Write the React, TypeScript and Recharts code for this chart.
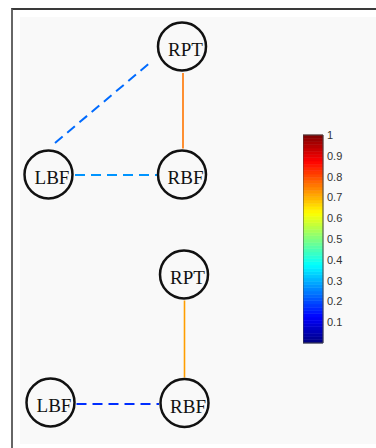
import {
  ComposedChart,
  Scatter,
  XAxis,
  YAxis,
  ReferenceArea,
} from "recharts";

// node layout (two graphs stacked: upper and lower)
const nodeNames = ["RPT", "LBF", "RBF", "RPT", "LBF", "RBF"];
const nodeX = [182, 48.5, 182, 184, 50.5, 184.5];
const nodeY = [46.5, 174.5, 174.5, 274.5, 402.5, 403];

// edges: endpoints, weight (0..1 on the colour scale), dashed or solid
const edgeX1 = [55, 75, 183, 184.5, 76.5];
const edgeY1 = [143, 175, 73, 300.5, 404];
const edgeX2 = [152, 157, 183, 184.5, 159];
const edgeY2 = [61, 175, 148.5, 377.5, 404];
const edgeWeight = [0.23, 0.27, 0.76, 0.72, 0.17];
const edgeDashed = [true, true, false, false, true];

const colorbarTicks = [0.1, 0.2, 0.3, 0.4, 0.5, 0.6, 0.7, 0.8, 0.9, 1];
const colorbarLevels = 64;

const clamp = (v: number) => Math.max(0, Math.min(1, v));

// MATLAB-style jet colormap
const jet = (v: number) => {
  const r = clamp(1.5 - Math.abs(4 * v - 3));
  const g = clamp(1.5 - Math.abs(4 * v - 2));
  const b = clamp(1.5 - Math.abs(4 * v - 1));
  return `rgb(${Math.round(r * 255)},${Math.round(g * 255)},${Math.round(b * 255)})`;
};

const nodes = nodeNames.map((name, i) => ({ name, x: nodeX[i], y: nodeY[i] }));

const edges = edgeWeight.map((w, i) => ({
  weight: w,
  dashed: edgeDashed[i],
  points: [
    { x: edgeX1[i], y: edgeY1[i] },
    { x: edgeX2[i], y: edgeY2[i] },
  ],
}));

const bands = Array.from({ length: colorbarLevels }, (_, i) => ({
  y1: i / colorbarLevels,
  y2: (i + 1) / colorbarLevels,
  color: jet((i + 0.5) / colorbarLevels),
}));

const NodeShape = (props: any) => {
  const { cx, cy, payload } = props;
  return (
    <g>
      <circle cx={cx} cy={cy} r={24} fill="none" stroke="#111" strokeWidth={2.5} />
      <text
        x={cx + 3.5}
        y={cy + 9.5}
        textAnchor="middle"
        fontFamily="Liberation Serif"
        fontSize={19}
        fill="#111"
      >
        {payload.name}
      </text>
    </g>
  );
};

const ColorbarTick = (props: any) => {
  const { x, y, payload } = props;
  return (
    <text
      x={x}
      y={y}
      dy={4}
      textAnchor="start"
      fontFamily="Liberation Sans"
      fontSize={11}
      fill="#333"
    >
      {String(payload.value)}
    </text>
  );
};

// a single point keeps the colorbar axes alive
const colorbarAnchor = [{ x: 0.5, y: 0.5 }];

const Colorbar = () => (
  <ComposedChart
    width={60}
    height={226}
    data={colorbarAnchor}
    margin={{ top: 11, right: 0, bottom: 7, left: 0 }}
  >
    <XAxis type="number" dataKey="x" domain={[0, 1]} allowDataOverflow hide />
    <YAxis
      yAxisId="cb"
      type="number"
      dataKey="y"
      orientation="right"
      domain={[0, 1]}
      allowDataOverflow
      ticks={colorbarTicks}
      interval={0}
      width={40}
      tickSize={2}
      tickMargin={2}
      tickLine={false}
      axisLine={false}
      tick={ColorbarTick}
    />
    <YAxis
      yAxisId="marks"
      type="number"
      orientation="left"
      mirror
      width={0}
      domain={[0, 1]}
      allowDataOverflow
      ticks={colorbarTicks}
      interval={0}
      tickSize={3}
      tick={false}
      axisLine={false}
      tickLine={{ stroke: "#333" }}
    />
    {bands.map((b, i) => (
      <ReferenceArea
        key={i}
        yAxisId="cb"
        x1={0}
        x2={1}
        y1={b.y1}
        y2={b.y2}
        fill={b.color}
        fillOpacity={1}
        stroke={b.color}
        strokeWidth={0.6}
      />
    ))}
    <ReferenceArea
      yAxisId="cb"
      x1={0}
      x2={1}
      y1={0}
      y2={1}
      fill="none"
      stroke="#444"
      strokeWidth={1}
    />
    <Scatter yAxisId="cb" dataKey="y" isAnimationActive={false} shape={() => <g />} />
  </ComposedChart>
);

export default function App() {
  return (
    <div
      style={{
        position: "fixed",
        left: 0,
        top: 0,
        width: 376,
        height: 448,
        background: "#fff",
        overflow: "hidden",
      }}
    >
      {/* figure frame and axes background */}
      <div
        style={{
          position: "absolute",
          left: 11,
          top: 8,
          width: 380,
          height: 460,
          borderTop: "2px solid #3a3a3a",
          borderLeft: "2px solid #666",
        }}
      />
      <div
        style={{
          position: "absolute",
          left: 20,
          top: 17,
          width: 356,
          height: 427,
          background: "#f9f9f9",
        }}
      />
      <div style={{ position: "absolute", left: 0, top: 0 }}>
        <ComposedChart
          width={376}
          height={448}
          margin={{ top: 0, right: 0, bottom: 0, left: 0 }}
        >
          <XAxis type="number" dataKey="x" domain={[0, 376]} allowDataOverflow hide />
          <YAxis type="number" dataKey="y" domain={[0, 448]} allowDataOverflow reversed hide />
          {edges.map((e, i) => (
            <Scatter
              key={`edge-${i}`}
              data={e.points}
              isAnimationActive={false}
              shape={() => <g />}
              line={{
                stroke: jet(e.weight),
                strokeWidth: e.dashed ? 2 : 1.6,
                strokeDasharray: e.dashed ? "10 6" : undefined,
              }}
            />
          ))}
          <Scatter data={nodes} isAnimationActive={false} shape={NodeShape} />
        </ComposedChart>
      </div>
      <div style={{ position: "absolute", left: 303, top: 124 }}>
        <Colorbar />
      </div>
    </div>
  );
}
